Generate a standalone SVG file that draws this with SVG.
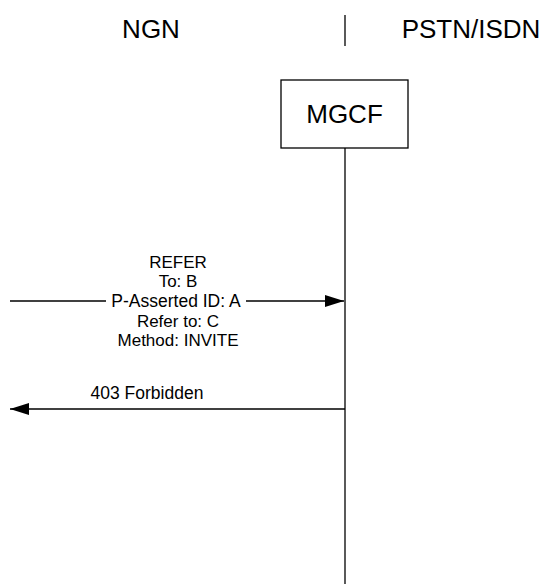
<svg xmlns="http://www.w3.org/2000/svg" width="546" height="585" viewBox="0 0 546 585">
<defs>
<style>
text{font-family:"Liberation Sans",Arial,sans-serif;fill:#000}
.big{font-size:26px}
.msg{font-size:17px;text-anchor:middle}
.ln{stroke:#000;stroke-width:1.3;fill:none}
</style>
<marker id="ah" markerWidth="19" markerHeight="12" refX="19" refY="6" orient="auto" markerUnits="userSpaceOnUse">
<path d="M0,0 L19,6 L0,12 Z" fill="#000"/>
</marker>
</defs>
<rect width="546" height="585" fill="#fff"/>
<g id="header">
<text class="big" x="151" y="38" text-anchor="middle">NGN</text>
<text class="big" x="471" y="38" text-anchor="middle">PSTN/ISDN</text>
<line class="ln" x1="345" y1="15" x2="345" y2="46"/>
</g>
<g id="mgcf">
<rect x="281" y="80" width="127" height="68" fill="#fff" stroke="#000" stroke-width="1.3"/>
<text class="big" x="344.5" y="123" text-anchor="middle">MGCF</text>
<line class="ln" x1="345" y1="148" x2="345" y2="584"/>
</g>
<g id="connectors">
<g id="refer">
<line class="ln" x1="10" y1="301" x2="106" y2="301"/>
<line class="ln" x1="246" y1="301" x2="344" y2="301" marker-end="url(#ah)"/>
<text class="msg" x="178" y="268">REFER</text>
<text class="msg" x="178" y="287">To: B</text>
<text class="msg" x="176" y="307" style="font-size:17.5px">P-Asserted ID: A</text>
<text class="msg" x="178" y="327">Refer to: C</text>
<text class="msg" x="178" y="346">Method: INVITE</text>
</g>
<g id="forbidden">
<line class="ln" x1="345" y1="409" x2="10" y2="409" marker-end="url(#ah)"/>
<text class="msg" x="147" y="399" style="font-size:17.5px">403 Forbidden</text>
</g>
</g>
</svg>
